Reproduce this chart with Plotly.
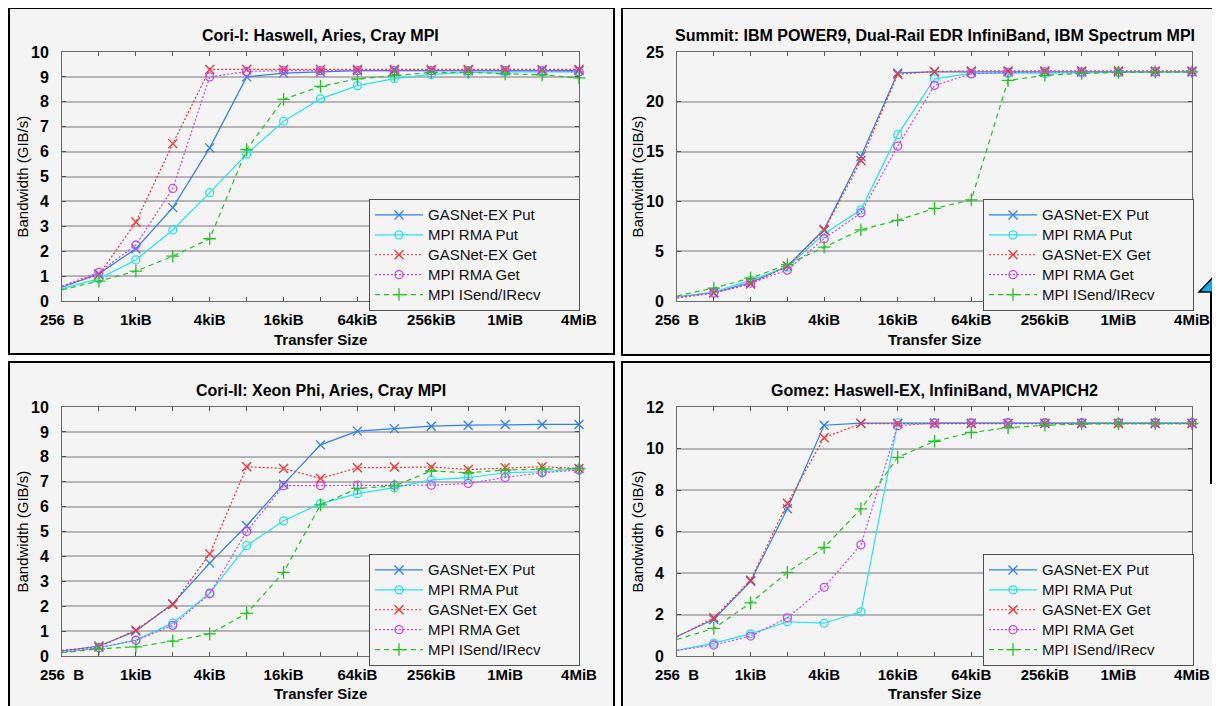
import math
import plotly.graph_objects as go

# the page places the figure 8px from the top-left corner
OFF = 8
W, H = 1220 - OFF, 706 - OFF

# ---------------- data ----------------
sizes = [256, 512, 1024, 2048, 4096, 8192, 16384, 32768, 65536, 131072,
         262144, 524288, 1048576, 2097152, 4194304]
size_ticktext = ["256\u00a0\u00a0B", "", "1kiB", "", "4kiB", "", "16kiB", "", "64kiB", "",
                 "256kiB", "", "1MiB", "", "4MiB"]
series_names = ["GASNet-EX Put", "MPI RMA Put", "GASNet-EX Get", "MPI RMA Get", "MPI ISend/IRecv"]

panel_titles = ["Cori-I: Haswell, Aries, Cray MPI",
                "Summit: IBM POWER9, Dual-Rail EDR InfiniBand, IBM Spectrum MPI",
                "Cori-II: Xeon Phi, Aries, Cray MPI",
                "Gomez: Haswell-EX, InfiniBand, MVAPICH2"]

cori1_gasnet_put = [0.55, 1.1, 2.1, 3.75, 6.15, 9.0, 9.15, 9.2, 9.25, 9.25, 9.25, 9.25, 9.25, 9.25, 9.25]
cori1_mpi_rma_put = [0.5, 0.9, 1.65, 2.85, 4.35, 5.9, 7.22, 8.12, 8.65, 8.93, 9.1, 9.18, 9.2, 9.2, 9.2]
cori1_gasnet_get = [0.6, 1.05, 3.17, 6.32, 9.3, 9.3, 9.3, 9.3, 9.3, 9.3, 9.3, 9.3, 9.3, 9.3, 9.3]
cori1_mpi_rma_get = [0.6, 1.15, 2.25, 4.52, 9.0, 9.22, 9.25, 9.25, 9.25, 9.25, 9.25, 9.25, 9.25, 9.25, 9.2]
cori1_mpi_isend = [0.45, 0.8, 1.2, 1.8, 2.5, 6.08, 8.1, 8.62, 8.92, 9.06, 9.18, 9.18, 9.12, 9.08, 8.96]

summit_gasnet_put = [0.4, 0.85, 1.85, 3.5, 7.2, 14.5, 22.9, 23.0, 23.0, 23.0, 23.0, 23.0, 23.0, 23.0, 23.0]
summit_mpi_rma_put = [0.4, 0.9, 2.1, 3.4, 6.75, 9.15, 16.7, 22.3, 22.85, 22.85, 22.85, 22.9, 22.95, 23.0, 23.0]
summit_gasnet_get = [0.3, 0.8, 1.7, 3.5, 7.1, 14.1, 22.75, 23.05, 23.1, 23.1, 23.1, 23.1, 23.1, 23.1, 23.1]
summit_mpi_rma_get = [0.4, 0.8, 1.8, 3.1, 6.25, 8.85, 15.55, 21.65, 22.8, 22.95, 23.0, 23.0, 23.0, 23.0, 23.0]
summit_mpi_isend = [0.5, 1.3, 2.3, 3.65, 5.4, 7.15, 8.1, 9.3, 10.15, 22.15, 22.65, 22.85, 22.95, 23.0, 23.0]

cori2_gasnet_put = [0.2, 0.4, 1.0, 2.1, 3.73, 5.23, 6.9, 8.48, 9.03, 9.13, 9.23, 9.27, 9.3, 9.3, 9.3]
cori2_mpi_rma_put = [0.15, 0.33, 0.64, 1.32, 2.53, 4.43, 5.43, 6.12, 6.52, 6.76, 7.07, 7.16, 7.36, 7.4, 7.52]
cori2_gasnet_get = [0.23, 0.36, 1.04, 2.07, 4.1, 7.6, 7.53, 7.13, 7.56, 7.59, 7.59, 7.49, 7.56, 7.6, 7.53]
cori2_mpi_rma_get = [0.16, 0.33, 0.63, 1.23, 2.5, 5.0, 6.84, 6.84, 6.86, 6.86, 6.86, 6.93, 7.17, 7.36, 7.47]
cori2_mpi_isend = [0.13, 0.29, 0.37, 0.6, 0.89, 1.71, 3.36, 6.07, 6.73, 6.83, 7.43, 7.36, 7.47, 7.51, 7.53]

gomez_gasnet_put = [0.95, 1.76, 3.6, 7.1, 11.12, 11.22, 11.22, 11.22, 11.22, 11.22, 11.22, 11.22, 11.22, 11.22, 11.22]
gomez_mpi_rma_put = [0.27, 0.62, 1.07, 1.65, 1.58, 2.13, 11.25, 11.25, 11.25, 11.25, 11.25, 11.25, 11.25, 11.25, 11.25]
gomez_gasnet_get = [0.92, 1.84, 3.65, 7.36, 10.52, 11.2, 11.2, 11.2, 11.2, 11.2, 11.2, 11.2, 11.2, 11.2, 11.2]
gomez_mpi_rma_get = [0.27, 0.53, 0.96, 1.84, 3.31, 5.36, 11.1, 11.22, 11.23, 11.23, 11.23, 11.23, 11.23, 11.23, 11.23]
gomez_mpi_isend = [0.8, 1.33, 2.56, 4.03, 5.23, 7.09, 9.57, 10.35, 10.77, 11.0, 11.12, 11.18, 11.2, 11.2, 11.2]

panel_series = [
    [cori1_gasnet_put, cori1_mpi_rma_put, cori1_gasnet_get, cori1_mpi_rma_get, cori1_mpi_isend],
    [summit_gasnet_put, summit_mpi_rma_put, summit_gasnet_get, summit_mpi_rma_get, summit_mpi_isend],
    [cori2_gasnet_put, cori2_mpi_rma_put, cori2_gasnet_get, cori2_mpi_rma_get, cori2_mpi_isend],
    [gomez_gasnet_put, gomez_mpi_rma_put, gomez_gasnet_get, gomez_mpi_rma_get, gomez_mpi_isend],
]
y_max = [10, 25, 10, 12]
y_dtick = [1, 5, 1, 2]

# ---------------- styles ----------------
colors = ["#2f80f5", "#22e6f2", "#ff3030", "#cc44ff", "#22c422"]
dashes = ["solid", "solid", "2px,2px", "2px,2px", "5px,4px"]
symbols = ["x-thin", "circle-open", "x-thin", "circle-open", "cross-thin"]
msizes = [9, 8, 9, 8, 9]

FONT = "Liberation Sans, Arial, sans-serif"
BG = "#f4f4f4"
PAD = "\u00a0" * 8

# layout positions in screen pixels: (left, right, top, bottom)
plot_px = [(62, 579, 52, 301), (677, 1192, 52, 301),
           (62, 579, 407, 656), (677, 1192, 407, 656)]
legend_px = [(369, 199), (983, 199), (369, 554), (983, 554)]
box_px = [(9, 614, 8, 354), (622, 1240, 8, 355), (9, 614, 362, 720), (622, 1240, 362, 720)]
xtitle_dy = [38, 38, 37, 37]


def px(x):
    return (x - OFF) / W


def py(y):
    return 1 - (y - OFF) / H


fig = go.Figure()
layout = dict(
    width=W, height=H,
    margin=dict(l=0, r=0, t=0, b=0, autoexpand=False),
    paper_bgcolor="white", plot_bgcolor=BG,
    font=dict(family=FONT, color="black"),
    showlegend=True,
)
shapes = []
annotations = []

for p in range(4):
    n = p + 1
    xa = "x" if n == 1 else f"x{n}"
    ya = "y" if n == 1 else f"y{n}"
    leg = "legend" if n == 1 else f"legend{n}"
    for s in range(5):
        fig.add_trace(go.Scatter(
            x=sizes, y=panel_series[p][s],
            name=f'<span style="font-size:15px">{series_names[s]}{PAD}</span>',
            mode="lines+markers", xaxis=xa, yaxis=ya, legend=leg,
            line=dict(color=colors[s], width=1.2, dash=dashes[s]),
            marker=dict(symbol=symbols[s], size=msizes[s], color=colors[s],
                        line=dict(color=colors[s], width=1.3)),
            cliponaxis=False,
        ))
    l, r, t, b = plot_px[p]
    layout["xaxis" if n == 1 else f"xaxis{n}"] = dict(
        domain=[px(l), px(r)], anchor=ya, type="log", automargin=False,
        range=[math.log10(sizes[0]), math.log10(sizes[-1])],
        tickmode="array", tickvals=sizes, ticktext=size_ticktext,
        ticks="inside", ticklen=4, tickcolor="#555555",
        showline=True, linecolor="#6a6a6a", linewidth=1, mirror="ticks",
        showgrid=False, zeroline=False,
        tickfont=dict(family=FONT, size=15, weight="bold", color="black"),
        ticklabelstandoff=5,
    )
    layout["yaxis" if n == 1 else f"yaxis{n}"] = dict(
        domain=[py(b), py(t)], anchor=xa, automargin=False,
        range=[0, y_max[p]], dtick=y_dtick[p], tick0=0,
        ticks="inside", ticklen=4, tickcolor="#555555",
        showline=True, linecolor="#6a6a6a", linewidth=1, mirror="ticks",
        showgrid=True, gridcolor="#b5b5b5", gridwidth=2, zeroline=False,
        tickfont=dict(family=FONT, size=16, weight="bold", color="black"),
        ticklabelstandoff=9,
    )
    lx, ly = legend_px[p]
    layout[leg] = dict(
        x=px(lx), y=py(ly), xanchor="left", yanchor="top",
        bgcolor=BG, bordercolor="#505050", borderwidth=1,
        font=dict(family=FONT, size=13, color="#111111"),
        itemwidth=48, tracegroupgap=0,
    )
    bx0, bx1, by0, by1 = box_px[p]
    shapes.append(dict(type="rect", xref="paper", yref="paper",
                       x0=px(bx0), x1=px(bx1), y0=py(by1), y1=py(by0),
                       line=dict(color="black", width=2), fillcolor=BG, layer="below"))
    # titles
    annotations.append(dict(text=panel_titles[p], xref="paper", yref="paper",
                            x=px((l + r) / 2), y=py(t - 17), xanchor="center", yanchor="middle",
                            showarrow=False, font=dict(family=FONT, size=16, weight="bold")))
    annotations.append(dict(text="Transfer Size", xref="paper", yref="paper",
                            x=px((l + r) / 2), y=py(b + xtitle_dy[p]), xanchor="center", yanchor="middle",
                            showarrow=False, font=dict(family=FONT, size=15, weight="bold")))
    annotations.append(dict(text="Bandwidth (GIB/s)", xref="paper", yref="paper",
                            x=px(l - 40), y=py((t + b) / 2), xanchor="center", yanchor="middle",
                            textangle=-90, showarrow=False,
                            font=dict(family=FONT, size=15, color="black")))

# callout arrow fragment at the right edge
shapes.append(dict(type="path", xref="paper", yref="paper",
                   path=f"M {px(1199)},{py(292)} L {px(1219)},{py(271)} L {px(1219)},{py(292)} Z",
                   fillcolor="#08b0f0", line=dict(color="black", width=1.5), layer="above"))
shapes.append(dict(type="line", xref="paper", yref="paper",
                   x0=px(1211), x1=px(1211), y0=py(292), y1=py(484),
                   line=dict(color="black", width=2), layer="above"))

layout["shapes"] = shapes
layout["annotations"] = annotations
fig.update_layout(**layout)
fig.write_html("out.html")
